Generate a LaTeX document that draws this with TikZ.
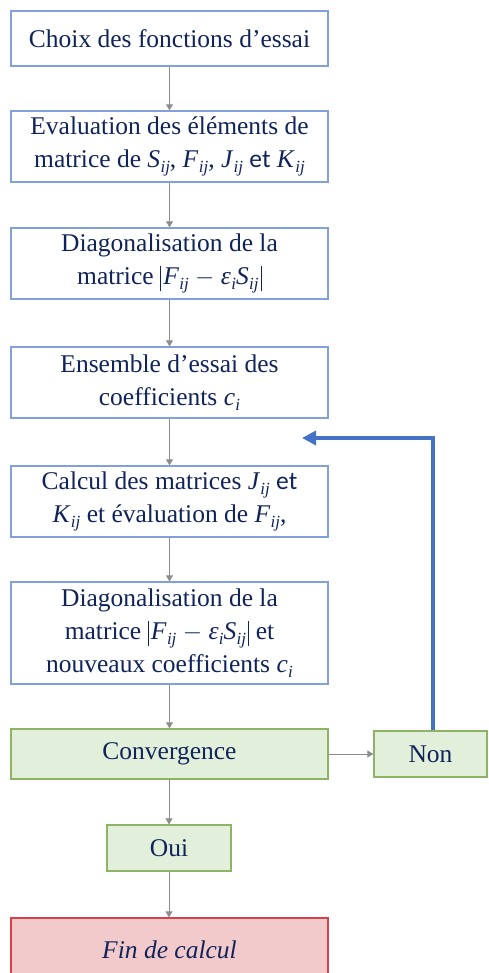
\documentclass[tikz,border=0pt]{standalone}
\usepackage{fontspec}
\setmainfont{Liberation Serif}
\newfontfamily\calib{Carlito}
\usetikzlibrary{arrows.meta}
\definecolor{navy}{RGB}{16,36,90}
\definecolor{boxblue}{RGB}{130,160,220}
\definecolor{greenfill}{RGB}{226,239,218}
\definecolor{greenline}{RGB}{140,180,100}
\definecolor{redfill}{RGB}{242,202,204}
\definecolor{redline}{RGB}{215,65,75}
\definecolor{arrgray}{RGB}{140,140,140}
\definecolor{loopblue}{RGB}{68,114,196}
\newcommand\mvar[2]{\textit{#1}\kern0.3pt\raisebox{-0.45ex}{\fontsize{17}{17}\selectfont\textit{#2}}}
\newcommand\vbar{\rule[-7pt]{1.3pt}{25pt}}
\newcommand\bars[1]{\vbar\kern2pt#1\kern2pt\vbar}
\tikzset{
  bbox/.style={draw=boxblue, line width=1.3pt, fill=white, minimum width=317pt, align=center, inner sep=0pt, text=navy, font=\fontsize{25.5}{33}\selectfont},
  gbox/.style={bbox, draw=greenline, fill=greenfill},
  rbox/.style={bbox, draw=redline, fill=redfill},
  garrow/.style={draw=arrgray, line width=0.9pt, -{Triangle[length=6pt,width=7pt]}},
  barrow/.style={draw=loopblue, line width=4pt, -{Triangle[length=14pt,width=14pt]}}
}
\begin{document}
\begin{tikzpicture}[x=1pt,y=-1pt]
\useasboundingbox (0,0) rectangle (488,973);
\clip (0,0) rectangle (488,973);
\node[bbox, minimum height=55pt] (b1) at (169.5,38.5) {Choix des fonctions d’essai};
\node[bbox, minimum height=71pt] (b2) at (169.5,146.5) {Evaluation des éléments de\\matrice de \mvar{S}{ij}, \mvar{F}{ij}, \mvar{J}{ij} {\calib et} \mvar{K}{ij}};
\node[bbox, minimum height=71pt] (b3) at (169.5,263.5) {Diagonalisation de la\\matrice \bars{\mvar{F}{ij} $-$ \mvar{ε}{i}\mvar{S}{ij}}};
\node[bbox, minimum height=71pt] (b4) at (169.5,382.5) {Ensemble d’essai des\\coefficients \mvar{c}{i}};
\node[bbox, minimum height=71pt] (b5) at (169.5,501.5) {Calcul des matrices \mvar{J}{ij} {\calib et}\\\mvar{K}{ij} et évaluation de \mvar{F}{ij},};
\node[bbox, minimum height=102pt] (b6) at (169.5,633) {Diagonalisation de la\\matrice \bars{\mvar{F}{ij} $-$ \mvar{ε}{i}\mvar{S}{ij}} et\\nouveaux coefficients \mvar{c}{i}};
\node[gbox, minimum height=50pt] (conv) at (169.5,754) {Convergence};
\node[gbox, minimum width=113pt, minimum height=46pt] (non) at (430.5,754) {Non};
\node[gbox, minimum width=124pt, minimum height=46pt] (oui) at (169,848) {Oui};
\node[rbox, minimum height=64pt] (fin) at (169.5,950) {\itshape Fin de calcul};
\coordinate (loopend) at (302,438);
\draw[garrow] (b1) -- (b2);
\draw[garrow] (b2) -- (b3);
\draw[garrow] (b3) -- (b4);
\draw[garrow] (b4) -- (b5);
\draw[garrow] (b5) -- (b6);
\draw[garrow] (b6) -- (conv);
\draw[garrow] (conv) -- (non);
\draw[garrow] (conv.south -| oui.north) -- (oui);
\draw[garrow] (oui) -- (fin.north -| oui.south);
\draw[barrow] ([xshift=2pt]non.north) |- (loopend);
\end{tikzpicture}
\end{document}
